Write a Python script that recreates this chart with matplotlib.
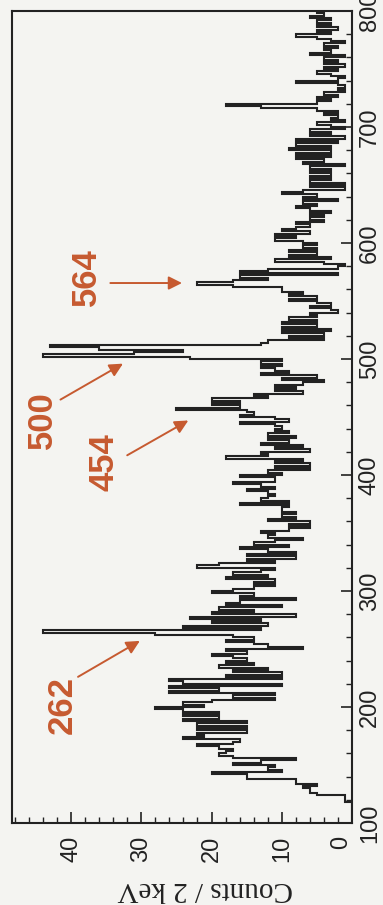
import matplotlib
matplotlib.use('Agg')
import matplotlib.pyplot as plt
from matplotlib import font_manager
from matplotlib.ticker import MultipleLocator
import numpy as np

# spectrum, 2 keV bins starting at 100 keV
bin_width = 2
e_start = 100
counts = [
    0, 0, 0, 0, 0, 0, 0, 0, 0, 1,          # 100
    1, 1, 5, 6, 6, 7, 5, 8, 8, 15,         # 120
    15, 20, 10, 12, 11, 17, 13, 8, 17, 19, # 140
    18, 17, 19, 22, 17, 16, 24, 21, 22, 15, # 160
    22, 15, 22, 15, 24, 19, 24, 19, 24, 28, # 180
    21, 24, 20, 11, 17, 11, 26, 19, 26, 10, # 200
    24, 26, 10, 18, 10, 17, 12, 19, 14, 18, # 220
    15, 17, 20, 15, 18, 7, 12, 14, 18, 14,  # 240
    17, 28, 44, 13, 24, 12, 20, 13, 23, 8,  # 260
    20, 14, 19, 10, 18, 16, 8, 16, 14, 20,  # 280
    17, 14, 11, 14, 11, 18, 12, 17, 13, 11, # 300
    22, 19, 11, 15, 8, 15, 8, 12, 16, 9,    # 320
    14, 11, 7, 12, 11, 13, 9, 6, 9, 6,      # 340
    12, 8, 10, 8, 10, 10, 9, 16, 9, 13,     # 360
    12, 11, 12, 15, 11, 13, 17, 11, 11, 16, # 380
    10, 12, 6, 11, 6, 11, 7, 18, 12, 13,    # 400
    6, 11, 7, 13, 9, 12, 8, 12, 9, 11,      # 420
    10, 11, 16, 9, 11, 16, 14, 15, 25, 16,  # 440
    20, 16, 20, 12, 14, 7, 11, 8, 11, 7,    # 460
    4, 10, 5, 13, 9, 11, 13, 10, 13, 10,    # 480
    23, 44, 31, 24, 36, 43, 13, 12, 4, 9,   # 500
    4, 10, 3, 10, 5, 10, 5, 9, 5, 6,        # 520
    2, 3, 6, 3, 5, 9, 5, 9, 7, 10,          # 540
    10, 17, 22, 17, 12, 16, 2, 16, 12, 2,   # 560
    1, 4, 11, 3, 9, 5, 9, 5, 7, 5,          # 580
    7, 11, 8, 11, 6, 10, 8, 6, 8, 4,        # 600
    6, 4, 6, 3, 6, 8, 5, 7, 2, 7,           # 620
    5, 10, 7, 1, 6, 1, 6, 3, 6, 3,          # 640
    6, 3, 6, 1, 7, 4, 8, 3, 8, 3,           # 660
    9, 3, 8, 2, 8, 1, 6, 3, 6, 1,           # 680
    3, 5, 1, 3, 2, 4, 2, 5, 13, 18,         # 700
    5, 3, 5, 2, 4, 1, 2, 1, 2, 8,           # 720
    2, 1, 3, 5, 2, 4, 1, 4, 2, 4,           # 740
    1, 6, 3, 4, 2, 4, 1, 3, 5, 8,           # 760
    3, 5, 2, 5, 3, 5, 3, 6, 4, 5,           # 780
]
edges = e_start + bin_width * np.arange(len(counts) + 1)

peak_labels = ['262', '454', '500', '564']
count_ticks = [0, 10, 20, 30, 40]
energy_ticks = [100, 200, 300, 400, 500, 600, 700, 800]

names = {f.name for f in font_manager.fontManager.ttflist}
sans = 'Liberation Sans Narrow' if 'Liberation Sans Narrow' in names else 'Liberation Sans'

ink = '#222222'
orange = '#c65a30'
bg = '#f4f4f1'

fig = plt.figure(figsize=(3.83, 9.05), dpi=100, facecolor=bg)
ax = fig.add_axes([12 / 383, 82 / 905, 340 / 383, 812 / 905])
ax.set_facecolor(bg)

ax.stairs(counts, edges, orientation='horizontal', baseline=None, color=ink, lw=1.5)

ax.set_xlim(48.4, 0)
ax.set_ylim(100, 800)
ax.set_xticks(count_ticks)
ax.set_yticks(energy_ticks)
ax.xaxis.set_minor_locator(MultipleLocator(2))
ax.yaxis.set_minor_locator(MultipleLocator(20))
ax.yaxis.tick_right()
ax.tick_params(which='both', direction='in', color=ink, top=False, left=False)
ax.tick_params(which='major', length=8, width=1.2)
ax.tick_params(which='minor', length=4, width=1.0)
ax.tick_params(axis='x', pad=9)
ax.tick_params(axis='y', pad=5)
for lab in ax.get_xticklabels():
    lab.set_rotation(90)
    lab.set_fontfamily(sans)
    lab.set_fontsize(17)
    lab.set_color(ink)
# the "0" sits right against the energy labels, so pull it left a bit
ax.get_xticklabels()[0].set_ha('right')
for lab in ax.get_yticklabels():
    lab.set_rotation(90)
    lab.set_va('center')
    lab.set_fontfamily(sans)
    lab.set_fontsize(17)
    lab.set_color(ink)
for s in ax.spines.values():
    s.set_linewidth(1.5)
    s.set_color(ink)

fig.text(205 / 383, 1 - 889 / 905, 'Counts / 2 keV', rotation=180, ha='center',
         va='center', family='Liberation Serif', fontsize=21, color=ink)

# peak labels and arrows (count, energy positions)
label_pos = [(41.3, 202), (35.3, 411), (44.1, 447), (37.8, 571)]
arrow_from = [(39.0, 226), (32.0, 417), (41.5, 465), (34.4, 565.5)]
arrow_to = [(30.2, 257), (23.3, 447), (32.6, 496), (24.2, 565.5)]
for txt, lp, a0, a1 in zip(peak_labels, label_pos, arrow_from, arrow_to):
    ax.text(lp[0], lp[1], txt, rotation=90, ha='center', va='center', color=orange,
            fontweight='bold', fontsize=25, family=sans)
    ax.annotate('', xy=a1, xytext=a0,
                arrowprops=dict(arrowstyle='-|>', color=orange, lw=1.4,
                                mutation_scale=20, shrinkA=0, shrinkB=0))

fig.savefig('out.png', dpi=100, facecolor=bg)
